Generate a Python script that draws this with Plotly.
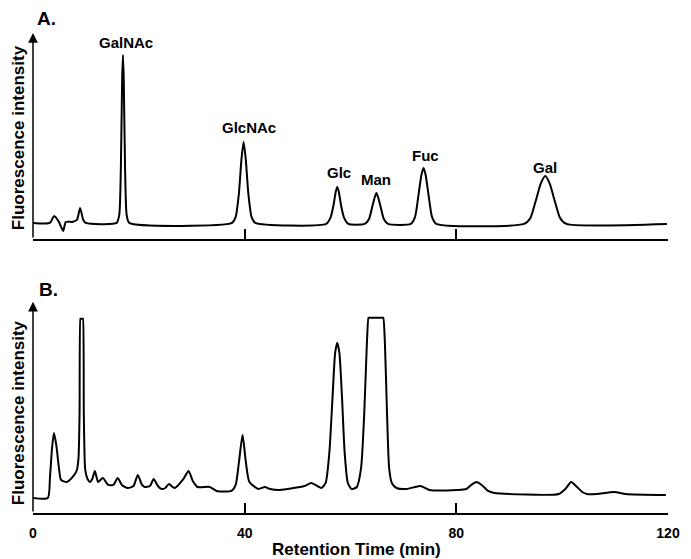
import plotly.graph_objects as go

# ---------------- data ----------------
# Panel A: standard monosaccharides (retention time in min, fluorescence a.u.)
a_time = [0, 3.2, 4.0, 4.9, 5.7, 6.2, 7.4, 8.3, 8.9, 9.5, 10.0,
          15.8, 16.3, 16.6, 16.85, 17.0, 17.15, 17.4, 17.7, 18.2,
          37.6, 38.3, 38.9, 39.4, 39.8, 40.2, 40.7, 41.3, 42.0,
          55.4, 56.2, 56.8, 57.2, 57.5, 57.8, 58.2, 58.8, 59.6,
          62.7, 63.5, 64.1, 64.6, 64.9, 65.2, 65.7, 66.3, 67.1,
          71.4, 72.2, 72.8, 73.4, 73.8, 74.2, 74.8, 75.4, 76.2,
          92.8, 94.0, 95.0, 96.0, 96.8, 97.6, 98.6, 99.6, 100.8, 119.8]
a_signal = [16, 16, 23, 17, 8, 17, 17, 19, 31, 19, 16,
            16, 24, 70, 160, 184, 160, 70, 24, 16,
            16, 22, 45, 80, 97, 80, 45, 22, 16,
            15, 21, 34, 47, 52, 47, 34, 21, 15,
            15, 20, 32, 42, 46, 42, 32, 20, 15,
            15, 22, 42, 64, 71, 64, 42, 22, 15,
            15, 21, 38, 56, 63, 56, 38, 21, 15, 15]

# Panel B: sample
b_time = [0, 2.8, 3.2, 3.6, 3.96, 4.4, 4.9, 5.3, 6.4, 7.5,
          8.3, 8.6, 8.8, 8.95, 9.0, 9.2, 9.4, 9.45, 9.6, 9.75, 9.9, 10.3, 10.8,
          11.2, 11.7, 12.3, 13.2, 14.2, 15.2, 16.0, 16.8, 17.9,
          19.0, 19.8, 20.6, 21.1, 22.1, 22.8, 23.6, 24.3, 25.0, 25.7, 26.4, 26.8,
          28.3, 29.4, 30.2, 31.1, 33.4, 34.7, 37.5,
          38.3, 38.9, 39.6, 40.2, 40.9, 42.6, 43.8, 44.8, 46.6, 51.3, 52.6, 54.5,
          55.3, 56.0, 56.6, 57.1, 57.5, 57.9, 58.4, 58.9, 59.5, 60.2,
          61.2, 62.0, 62.6, 63.1, 63.4, 63.5, 66.1, 66.2, 66.5, 66.9, 67.3, 67.8, 68.7,
          70.6, 73.2, 74.9, 80.2, 81.9, 82.8, 83.8, 84.8, 86.0, 87.2,
          99.4, 100.6, 101.7, 102.8, 103.8, 104.7, 106.5, 109.8, 112.0, 119.6]
b_signal = [15, 15, 35, 65, 80, 68, 45, 33, 31, 36,
            43, 55, 100, 194, 194, 194, 194, 194, 100, 55, 42, 34, 31,
            34, 42, 31, 35, 28, 28, 35, 28, 25,
            27, 38, 28, 26, 27, 34, 27, 24, 25, 29, 26, 25,
            33, 42, 32, 26, 26, 22, 22,
            28, 50, 78, 52, 31, 24, 26, 24, 23, 27, 30, 25,
            30, 60, 115, 160, 170, 160, 115, 60, 30, 24,
            26, 45, 100, 170, 195, 195, 195, 195, 170, 100, 45, 30, 25,
            24, 27, 23, 23, 24, 28, 31, 28, 22, 20,
            19, 24, 31, 26, 21, 19, 19, 21, 19, 18]

# peak labels in panel A
peak_names = ["GalNAc", "GlcNAc", "Glc", "Man", "Fuc", "Gal"]
label_time = [17.5, 40.9, 57.9, 64.9, 74.2, 96.8]
label_level = [197, 111, 66, 59, 83, 71]

x_ticks = [0, 40, 80, 120]
x_range = [0, 120]
a_range = [0, 206]
b_range = [0, 211]

FONT = "Liberation Sans, Arial, Helvetica, sans-serif"

fig = go.Figure()
fig.add_trace(go.Scatter(x=a_time, y=a_signal, mode="lines",
                         line=dict(color="black", width=2, shape="spline", smoothing=0.6),
                         xaxis="x", yaxis="y", showlegend=False, hoverinfo="skip"))
fig.add_trace(go.Scatter(x=b_time, y=b_signal, mode="lines",
                         line=dict(color="black", width=2, shape="spline", smoothing=0.6),
                         xaxis="x2", yaxis="y2", showlegend=False, hoverinfo="skip"))

common_x = dict(range=x_range, showgrid=False, zeroline=False, showline=True,
                linecolor="black", linewidth=1.5, ticks="inside", ticklen=10,
                tickwidth=1.5, tickcolor="black", tickvals=x_ticks)
fig.update_layout(
    width=691, height=559,
    margin=dict(l=33, r=23, t=33, b=46),
    paper_bgcolor="white", plot_bgcolor="white",
    font=dict(family=FONT, color="black"),
    xaxis=dict(domain=[0, 1], anchor="y", showticklabels=False, **common_x),
    yaxis=dict(domain=[0.571, 1], range=a_range, visible=False),
    xaxis2=dict(domain=[0, 1], anchor="y2", showticklabels=True,
                ticktext=[f"<b>{v}</b>" for v in x_ticks],
                tickfont=dict(size=14, family=FONT, color="black"),
                ticklabelstandoff=6, **common_x),
    yaxis2=dict(domain=[0, 0.44], range=b_range, visible=False),
)

ann = []
# y-axis arrows
for xr, yr, top in [("x", "y", a_range[1]), ("x2", "y2", b_range[1])]:
    ann.append(dict(x=0, y=top, ax=0, ay=0, xref=xr, yref=yr, axref=xr, ayref=yr,
                    text="", showarrow=True, arrowhead=2, arrowsize=1.3,
                    arrowwidth=1.5, arrowcolor="black"))
# peak labels
for name, t, lv in zip(peak_names, label_time, label_level):
    ann.append(dict(x=t, y=lv, xref="x", yref="y", text=f"<b>{name}</b>",
                    xanchor="center", yanchor="middle",
                    showarrow=False, font=dict(size=15, family=FONT, color="black")))
# panel letters
ann.append(dict(x=0.022, y=1.031, xref="paper", yref="paper", text="<b>A.</b>",
                xanchor="center", yanchor="middle",
                showarrow=False, font=dict(size=19, family=FONT, color="black")))
ann.append(dict(x=0.024, y=0.465, xref="paper", yref="paper", text="<b>B.</b>",
                xanchor="center", yanchor="middle",
                showarrow=False, font=dict(size=19, family=FONT, color="black")))
# y titles
for yc in [0.781, 0.208]:
    ann.append(dict(x=-0.0236, y=yc, xref="paper", yref="paper",
                    text="<b>Fluorescence intensity</b>", textangle=-90,
                    xanchor="center", yanchor="middle",
                    showarrow=False, font=dict(size=17, family=FONT, color="black")))
# x title
ann.append(dict(x=0.509, y=-0.075, xref="paper", yref="paper",
                text="<b>Retention Time (min)</b>", showarrow=False,
                xanchor="center", yanchor="middle",
                font=dict(size=17, family=FONT, color="black")))
fig.update_layout(annotations=ann)

fig.write_html("out.html", config={"displayModeBar": False},
               post_script="document.body.style.margin='0';document.body.style.overflow='hidden';")
